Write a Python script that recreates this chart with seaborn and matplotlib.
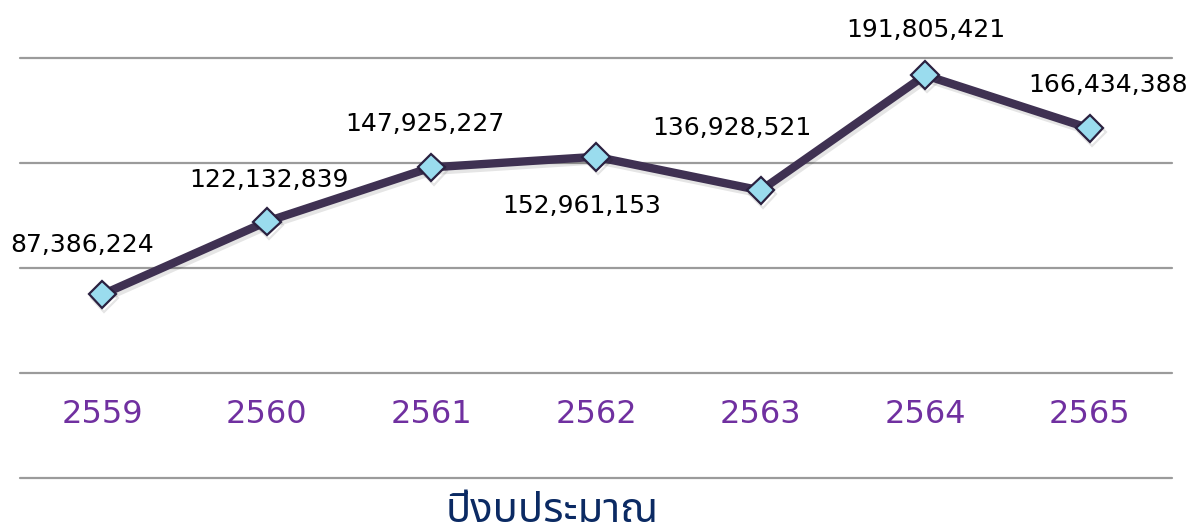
import matplotlib
matplotlib.use("Agg")
import matplotlib.pyplot as plt
import matplotlib.patheffects as pe
from matplotlib import font_manager
from matplotlib.ft2font import FT2Font
import seaborn as sns
import pandas as pd

# Budget per fiscal year (Thai Buddhist calendar years)
years = ["2559", "2560", "2561", "2562", "2563", "2564", "2565"]
budget = [87386224, 122132839, 147925227, 152961153, 136928521, 191805421, 166434388]
axis_title = "ปีงบประมาณ"

# Label offsets (pixels) relative to each point
label_dx = [-20, 2, -7, -14, -29, 1, 18]
label_dy = [49, 42, 43, -49, 62, 45, 43]


def find_thai_font():
    """Return the name of an installed font that has Thai glyphs."""
    preferred = ["Noto Sans Thai", "Noto Sans Thai UI", "Loma", "Garuda",
                 "Sarabun", "Tahoma", "Leelawadee UI"]
    found = {}
    for fe in font_manager.fontManager.ttflist:
        try:
            cmap = FT2Font(fe.fname).get_charmap()
        except Exception:
            continue
        if 0x0E1B in cmap and 0x0E35 in cmap:
            found.setdefault(fe.name, fe.fname)
    for name in preferred:
        if name in found:
            return name
    return next(iter(found), None)


sns.set_theme(style="white")
thai_font = find_thai_font()
families = ["DejaVu Sans"]
if thai_font:
    families = ["DejaVu Sans", thai_font]
plt.rcParams["font.family"] = families

df = pd.DataFrame({"year": years, "budget": budget})

fig = plt.figure(figsize=(11.86, 5.32), dpi=100)
ax = fig.add_axes([20 / 1186, 54 / 532, 1152 / 1186, 420 / 532])

sns.lineplot(
    data=df, x="year", y="budget", ax=ax, sort=False,
    color="#3f3152", linewidth=6,
    marker="D", markersize=14, markerfacecolor="#9adcee",
    markeredgecolor="#2b2140", markeredgewidth=1.6,
)
line = ax.lines[0]
line.set_clip_on(False)
line.set_path_effects([
    pe.SimpleLineShadow(offset=(1.5, -2.5), shadow_color="black", alpha=0.1),
    pe.Normal(),
])

ax.set_xlim(-0.5, len(years) - 0.5)
ax.set_ylim(0, 200_000_000)
ax.set_yticks([0, 50_000_000, 100_000_000, 150_000_000, 200_000_000])
ax.set_yticklabels([])
ax.yaxis.grid(True, color="#9b9b9b", linewidth=1.6)
ax.xaxis.grid(False)
for gl in ax.get_ygridlines():
    gl.set_clip_on(False)
for s in ax.spines.values():
    s.set_visible(False)

ax.tick_params(axis="y", length=0)
ax.tick_params(axis="x", length=0, pad=-57, labelsize=23, labelcolor="#7030a0")
ax.set_xlabel("")
ax.set_ylabel("")

for i, v in enumerate(budget):
    ax.annotate(
        f"{v:,}", xy=(i, v), xytext=(label_dx[i], label_dy[i]),
        textcoords="offset pixels", ha="center", va="center",
        fontsize=18, color="black", annotation_clip=False,
    )

fig.text(552 / 1186, 22 / 532, axis_title, ha="center", va="center",
         fontsize=30, fontweight="bold", color="#0b2a63")

fig.savefig("out.png", dpi=100)
